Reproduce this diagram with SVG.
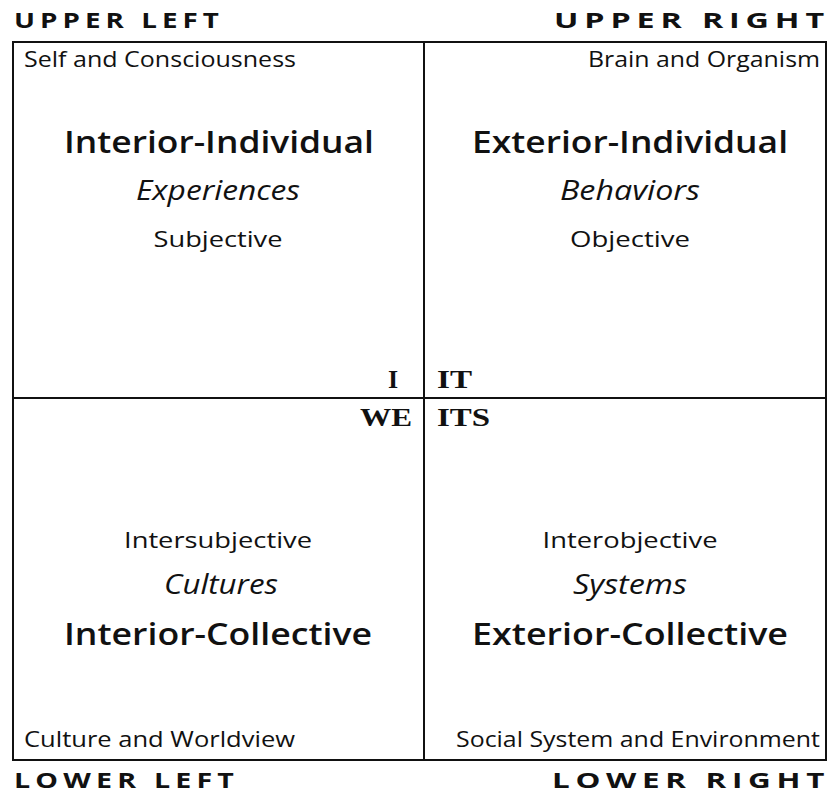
<svg xmlns="http://www.w3.org/2000/svg" width="837" height="795" viewBox="0 0 837 795">
<style>
text{font-family:"Open Sans",Lato,sans-serif;fill:#111}
.corner{font-weight:bold;font-size:22px;letter-spacing:4px}
.sub{font-weight:500;font-size:21px}
.big{font-weight:600;font-size:31px;text-anchor:middle}
.it{font-style:italic;font-size:28px;text-anchor:middle}
.mid{font-size:21px;text-anchor:middle}
.pro{font-family:"Liberation Serif",serif;font-weight:bold;font-size:26px}
.ln{stroke:#111;stroke-width:2;fill:none}
</style>
<rect width="837" height="795" fill="#fff"/>
<g id="frame">
<rect class="ln" x="13" y="42" width="813" height="718"/>
<line class="ln" x1="424" y1="42" x2="424" y2="760"/>
<line class="ln" x1="13" y1="398" x2="826" y2="398"/>
</g>
<g id="labels">
<text class="corner" x="14" y="28" textLength="210" lengthAdjust="spacingAndGlyphs">UPPER LEFT</text>
<text class="corner" x="830" y="28" text-anchor="end" textLength="276" lengthAdjust="spacingAndGlyphs">UPPER RIGHT</text>
<text class="corner" x="14" y="788" textLength="225" lengthAdjust="spacingAndGlyphs">LOWER LEFT</text>
<text class="corner" x="830" y="788" text-anchor="end" textLength="278" lengthAdjust="spacingAndGlyphs">LOWER RIGHT</text>
</g>
<g id="upper-left">
<text class="sub" x="24" y="67" textLength="272" lengthAdjust="spacingAndGlyphs">Self and Consciousness</text>
<text class="big" x="219" y="153" textLength="310" lengthAdjust="spacingAndGlyphs">Interior-Individual</text>
<text class="it" x="218" y="200" textLength="164" lengthAdjust="spacingAndGlyphs">Experiences</text>
<text class="mid" x="218" y="247" textLength="129" lengthAdjust="spacingAndGlyphs">Subjective</text>
<text class="pro" x="398" y="388" text-anchor="end">I</text>
</g>
<g id="upper-right">
<text class="sub" x="820" y="67" text-anchor="end" textLength="232" lengthAdjust="spacingAndGlyphs">Brain and Organism</text>
<text class="big" x="630" y="153" textLength="316" lengthAdjust="spacingAndGlyphs">Exterior-Individual</text>
<text class="it" x="630" y="200" textLength="140" lengthAdjust="spacingAndGlyphs">Behaviors</text>
<text class="mid" x="630" y="247" textLength="120" lengthAdjust="spacingAndGlyphs">Objective</text>
<text class="pro" x="437" y="388" textLength="35" lengthAdjust="spacingAndGlyphs">IT</text>
</g>
<g id="lower-left">
<text class="pro" x="412" y="426" text-anchor="end" textLength="52" lengthAdjust="spacingAndGlyphs">WE</text>
<text class="mid" x="218" y="548" textLength="188" lengthAdjust="spacingAndGlyphs">Intersubjective</text>
<text class="it" x="221" y="594" textLength="114" lengthAdjust="spacingAndGlyphs">Cultures</text>
<text class="big" x="218" y="645" textLength="308" lengthAdjust="spacingAndGlyphs">Interior-Collective</text>
<text class="sub" x="24" y="747" textLength="271" lengthAdjust="spacingAndGlyphs">Culture and Worldview</text>
</g>
<g id="lower-right">
<text class="pro" x="437" y="426" textLength="53" lengthAdjust="spacingAndGlyphs">ITS</text>
<text class="mid" x="630" y="548" textLength="175" lengthAdjust="spacingAndGlyphs">Interobjective</text>
<text class="it" x="630" y="594" textLength="114" lengthAdjust="spacingAndGlyphs">Systems</text>
<text class="big" x="630" y="645" textLength="316" lengthAdjust="spacingAndGlyphs">Exterior-Collective</text>
<text class="sub" x="820" y="747" text-anchor="end" textLength="364" lengthAdjust="spacingAndGlyphs">Social System and Environment</text>
</g>
</svg>
